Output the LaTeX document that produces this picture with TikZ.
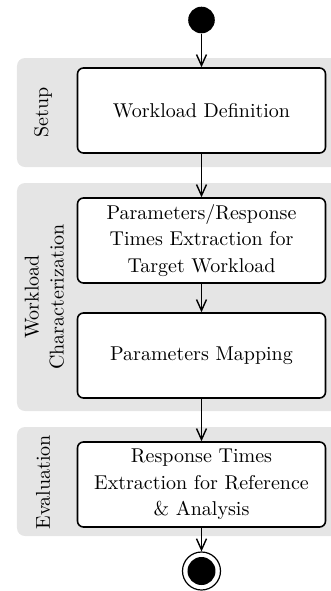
\documentclass[tikz,border=0pt]{standalone}
\usetikzlibrary{arrows.meta}
\begin{document}
\begin{tikzpicture}[x=0.5pt,y=-0.5pt,
  band/.style={fill=gray!20, draw=none, rounded corners=4pt},
  activity/.style={draw=black, line width=0.8pt, fill=white, rounded corners=3pt,
    minimum width=124pt, minimum height=42.5pt, inner sep=0pt, align=center,
    font=\fontsize{10}{13.3}\selectfont},
  lanelabel/.style={rotate=90, align=center, inner sep=0pt, font=\fontsize{10}{12.5}\selectfont},
  flow/.style={line width=0.7pt, -{Straight Barb[length=5.5pt,width=5pt,line width=0.7pt]}}
]
\useasboundingbox (0,0) rectangle (331,591);
\begin{scope}
  \clip (0,0) rectangle (331,591);
  \fill[band] (17,58) rectangle (350,167);
  \fill[band] (17,183) rectangle (350,411);
  \fill[band] (17,427) rectangle (350,536);
\end{scope}
\node[lanelabel] (l1) at (43,112.5) {Setup};
\node[lanelabel] (l2) at (44.5,297) {Workload\\Characterization};
\node[lanelabel] (l3) at (43,482) {Evaluation};

\node[circle, fill=black, minimum size=13.3pt, inner sep=0pt] (start) at (201.5,20) {};
\node[activity] (a1) at (201.5,110.5) {Workload Definition};
\node[activity] (a2) at (201.5,240.5) {Parameters/Response\\Times Extraction for\\Target Workload};
\node[activity] (a3) at (201.5,355.5) {Parameters Mapping};
\node[activity] (a4) at (201.5,484.5) {Response Times\\Extraction for Reference\\\& Analysis};
\node[circle, draw=black, line width=0.6pt, fill=white, minimum size=19pt, inner sep=0pt] (end) at (201.5,571) {};
\fill[black] (end.center) circle[radius=7pt];

\draw[flow] (start.south) -- (a1.north);
\draw[flow] (a1.south) -- (a2.north);
\draw[flow] (a2.south) -- (a3.north);
\draw[flow] (a3.south) -- (a4.north);
\draw[flow] (a4.south) -- (end.north);
\end{tikzpicture}
\end{document}
